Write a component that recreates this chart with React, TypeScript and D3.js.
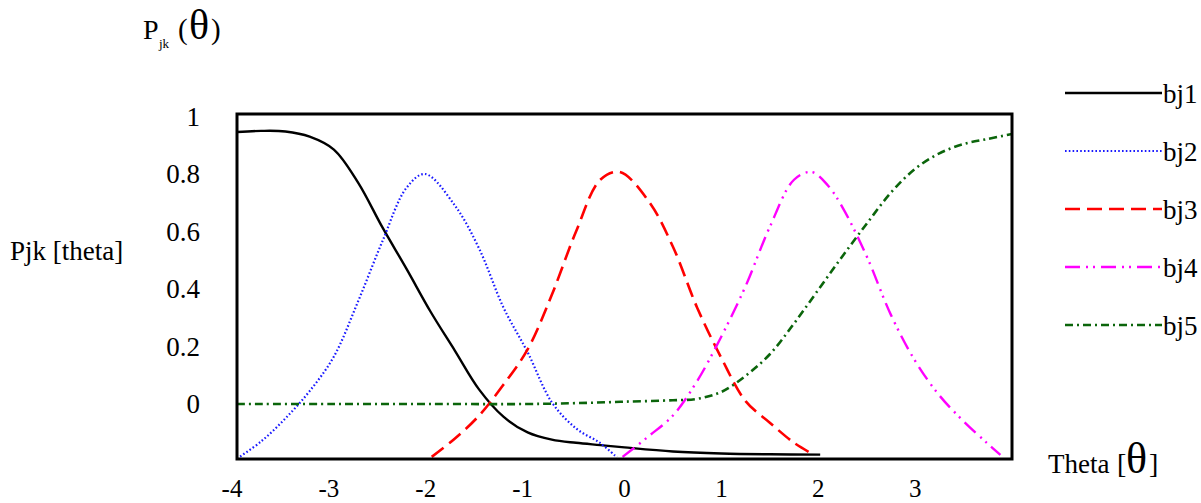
import * as d3 from 'd3';

// theta grid values, one list per curve
const bj1Theta = [-4, -3.75, -3.5, -3.25, -3, -2.75, -2.5, -2.25, -2, -1.75, -1.5, -1.25, -1, -0.75, -0.5, -0.25, 0, 0.5, 1, 1.5, 2.02];
const bj1Vals = [0.946, 0.95, 0.948, 0.93, 0.885, 0.77, 0.615, 0.47, 0.32, 0.185, 0.05, -0.044, -0.099, -0.124, -0.135, -0.143, -0.151, -0.165, -0.172, -0.175, -0.176];

const bj2Theta = [-4, -3.75, -3.5, -3.25, -3, -2.75, -2.5, -2.25, -2.06, -1.75, -1.5, -1.25, -1, -0.75, -0.5, -0.25, -0.08];
const bj2Vals = [-0.19, -0.13, -0.05, 0.045, 0.165, 0.357, 0.565, 0.752, 0.8, 0.69, 0.54, 0.336, 0.18, 0.006, -0.085, -0.136, -0.185];

const bj3Theta = [-1.99, -1.75, -1.5, -1.25, -1, -0.75, -0.5, -0.25, -0.05, 0.25, 0.5, 0.75, 1, 1.25, 1.5, 1.75, 1.93];
const bj3Vals = [-0.184, -0.12, -0.04, 0.067, 0.19, 0.38, 0.6, 0.78, 0.807, 0.705, 0.547, 0.335, 0.16, 0.01, -0.065, -0.135, -0.172];

const bj4Theta = [-0.02, 0.25, 0.5, 0.75, 1, 1.25, 1.5, 1.75, 1.93, 2.1, 2.25, 2.5, 2.75, 3, 3.25, 3.5, 3.75, 3.88];
const bj4Vals = [-0.184, -0.112, -0.04, 0.08, 0.235, 0.41, 0.616, 0.78, 0.807, 0.76, 0.684, 0.514, 0.31, 0.15, 0.03, -0.06, -0.138, -0.177];

const bj5Theta = [-4, -3, -2, -1, -0.5, 0, 0.5, 0.75, 1, 1.25, 1.5, 1.75, 2, 2.25, 2.5, 2.75, 3, 3.25, 3.5, 3.75, 4];
const bj5Vals = [0, 0, 0, 0, 0.003, 0.008, 0.013, 0.018, 0.042, 0.098, 0.173, 0.28, 0.397, 0.514, 0.627, 0.735, 0.818, 0.872, 0.904, 0.922, 0.939];

const seriesNames = ['bj1', 'bj2', 'bj3', 'bj4', 'bj5'];
const xTicks = [-4, -3, -2, -1, 0, 1, 2, 3];
const yTicks = [0, 0.2, 0.4, 0.6, 0.8, 1];

const styles = [
  { color: '#000000', dash: null as string | null, width: 2.4 },
  { color: '#1a1aff', dash: '1.6,2.2', width: 2.2 },
  { color: '#ff0000', dash: '15,7', width: 2.6 },
  { color: '#ff00ff', dash: '15,6,2,5,2,6', width: 2.4 },
  { color: '#0b650b', dash: '8,4,2,4', width: 2.6 },
];

const serif = { fontFamily: "'Liberation Serif'" };

export default function App() {
  const x = d3.scaleLinear().domain([-4, 4]).range([237, 1012]);
  const y = d3.scaleLinear().domain([0, 1]).range([404, 116.5]);

  const sets = [
    [bj1Theta, bj1Vals],
    [bj2Theta, bj2Vals],
    [bj3Theta, bj3Vals],
    [bj4Theta, bj4Vals],
    [bj5Theta, bj5Vals],
  ];

  const line = d3.line<[number, number]>()
    .x(d => x(d[0]))
    .y(d => y(d[1]))
    .curve(d3.curveCatmullRom.alpha(0.5));

  const legendY = d3.scalePoint<string>().domain(seriesNames).range([93, 325]);

  return (
    <svg width={1201} height={503} style={{ position: 'absolute', left: 0, top: 0, background: '#fff' }}>
      {/* title */}
      <text style={serif} x={143} y={39} fontSize={28}>P</text>
      <text style={serif} x={159} y={48} fontSize={13}>jk</text>
      <text style={serif} x={178} y={39} fontSize={29}>(</text>
      <text style={serif} x={189} y={39} fontSize={42}>θ</text>
      <text style={serif} x={211} y={39} fontSize={29}>)</text>

      <text style={serif} x={10} y={260} fontSize={27}>Pjk [theta]</text>

      {/* y ticks */}
      {yTicks.map(t => (
        <text key={t} style={serif} x={200} y={y(t) + 9} fontSize={27} textAnchor="end">{t}</text>
      ))}

      {/* x ticks */}
      {xTicks.map(t => (
        <text key={t} style={serif} x={x(t) - (t < 0 ? 5 : 0)} y={497} fontSize={25} textAnchor="middle">{t < 0 ? '-' + Math.abs(t) : t}</text>
      ))}

      <text style={serif} x={1048} y={473} fontSize={27}>Theta</text>
      <text style={serif} x={1117} y={473} fontSize={28}>[</text>
      <text style={serif} x={1126} y={473} fontSize={44}>θ</text>
      <text style={serif} x={1149} y={473} fontSize={28}>]</text>

      {/* curves */}
      {sets.map(([th, vs], i) => (
        <path key={i}
          d={line(th.map((t, j) => [t, vs[j]] as [number, number])) || ''}
          fill="none"
          stroke={styles[i].color}
          strokeWidth={styles[i].width}
          strokeDasharray={styles[i].dash || undefined} />
      ))}

      {/* plot frame */}
      <rect x={237} y={114} width={775} height={345} fill="none" stroke="#000" strokeWidth={3} />

      {/* legend */}
      {seriesNames.map((n, i) => (
        <g key={n}>
          <line x1={1065} x2={1162} y1={legendY(n)} y2={legendY(n)}
            stroke={styles[i].color} strokeWidth={styles[i].width}
            strokeDasharray={styles[i].dash || undefined} />
          <text style={serif} x={1163} y={(legendY(n) as number) + 10} fontSize={27}>{n}</text>
        </g>
      ))}
    </svg>
  );
}
